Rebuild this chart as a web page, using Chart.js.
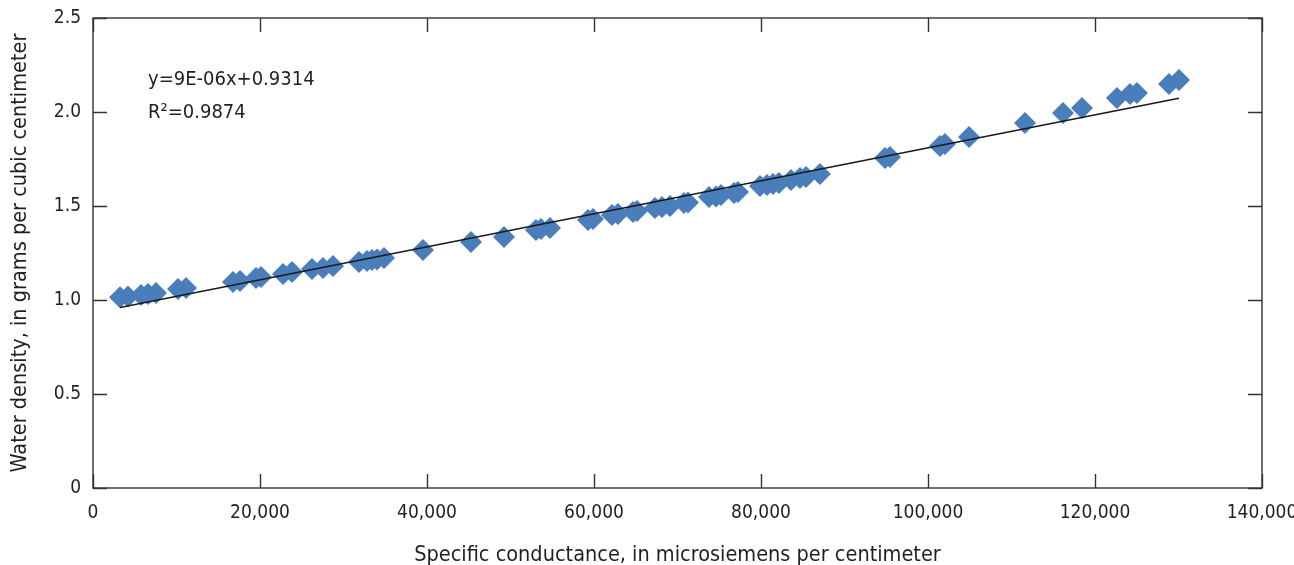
<!DOCTYPE html>
<html>
<head>
<meta charset="utf-8">
<script src="https://cdn.jsdelivr.net/npm/chart.js@4/dist/chart.umd.min.js"></script>
<style>
  html, body { margin: 0; padding: 0; background: #fff; }
  #wrap { width: 1294px; height: 565px; }
</style>
</head>
<body>
<div id="wrap"><canvas id="densityChart" width="1294" height="565"></canvas></div>
<script>
// specific conductance (uS/cm) and water density (g/cm3) of each sample
const conductance = [
  3234, 4192, 5748, 6587, 7545, 10180, 11138, 16766, 17605, 19521,
  20120, 22754, 23832, 26227, 27545, 28742, 31856, 32814, 33413, 34012,
  34850, 39520, 45270, 49220, 53050, 53650, 54730, 59280, 59880, 62150,
  62870, 64670, 65150, 67300, 68140, 69100, 70780, 71260, 73770, 74610,
  75210, 76770, 77240, 79880, 80720, 81440, 82150, 83590, 84670, 85390,
  87060, 94850, 95450, 101440, 102030, 104910, 111620, 116170, 118440, 122630,
  124190, 125020, 128860, 130060
];
const density = [
  1.014, 1.018, 1.027, 1.032, 1.037, 1.059, 1.064, 1.096, 1.101, 1.117,
  1.122, 1.138, 1.149, 1.165, 1.170, 1.181, 1.202, 1.207, 1.213, 1.215,
  1.223, 1.266, 1.309, 1.335, 1.372, 1.378, 1.383, 1.426, 1.431, 1.452,
  1.457, 1.468, 1.473, 1.489, 1.495, 1.500, 1.516, 1.519, 1.548, 1.551,
  1.559, 1.569, 1.574, 1.606, 1.612, 1.617, 1.622, 1.638, 1.649, 1.654,
  1.670, 1.755, 1.761, 1.819, 1.830, 1.867, 1.941, 1.995, 2.021, 2.074,
  2.096, 2.101, 2.149, 2.170
];

// linear trendline (slope shown rounded as 9E-06 in the equation label)
const trendSlope = 0.00000878;
const trendIntercept = 0.9314;
const equationLines = ['y=9E-06x+0.9314', 'R\u00b2=0.9874'];

const xTicks = [0, 20000, 40000, 60000, 80000, 100000, 120000, 140000];
const yTicks = [0, 0.5, 1.0, 1.5, 2.0, 2.5];

const FONT = "'DejaVu Sans Condensed', 'Liberation Sans Narrow', sans-serif";
const INK = '#231f20';

const points = conductance.map((x, i) => ({ x: x, y: density[i] }));
const xMin = Math.min(...conductance);
const xMax = Math.max(...conductance);
const trend = [xMin, xMax].map(x => ({ x: x, y: trendSlope * x + trendIntercept }));

// frame with inward ticks on all four sides, plus the equation text
const framePlugin = {
  id: 'frame',
  afterDraw(chart) {
    const ctx = chart.ctx;
    const a = chart.chartArea;
    const xs = chart.scales.x;
    const ys = chart.scales.y;
    const len = 14;
    ctx.save();
    ctx.strokeStyle = '#333';
    ctx.lineWidth = 1.4;
    ctx.strokeRect(a.left, a.top, a.right - a.left, a.bottom - a.top);
    ctx.beginPath();
    xTicks.forEach(v => {
      const px = Math.round(xs.getPixelForValue(v)) + 0.5;
      ctx.moveTo(px, a.bottom); ctx.lineTo(px, a.bottom - len);
      ctx.moveTo(px, a.top); ctx.lineTo(px, a.top + len);
    });
    yTicks.forEach(v => {
      const py = Math.round(ys.getPixelForValue(v)) + 0.5;
      ctx.moveTo(a.left, py); ctx.lineTo(a.left + len, py);
      ctx.moveTo(a.right, py); ctx.lineTo(a.right - len, py);
    });
    ctx.stroke();

    ctx.fillStyle = INK;
    ctx.font = '20px ' + FONT;
    ctx.textBaseline = 'middle';
    ctx.textAlign = 'left';
    equationLines.forEach((t, i) => {
      ctx.fillText(t, a.left + 55, a.top + 62 + i * 33);
    });
    ctx.restore();
  }
};

new Chart(document.getElementById('densityChart'), {
  type: 'scatter',
  data: {
    datasets: [{
      label: 'Trendline',
      type: 'line',
      data: trend,
      borderColor: '#1a1a1a',
      borderWidth: 1.5,
      pointRadius: 0,
      fill: false,
      order: 0
    }, {
      label: 'Samples',
      data: points,
      pointStyle: 'rectRot',
      pointRadius: 11,
      pointHoverRadius: 11,
      backgroundColor: '#4a7ebb',
      borderColor: '#4a7ebb',
      borderWidth: 0,
      order: 1
    }]
  },
  plugins: [framePlugin],
  options: {
    responsive: false,
    animation: false,
    layout: { padding: { top: 18, right: 32, left: 0, bottom: 0 } },
    plugins: {
      legend: { display: false },
      tooltip: { enabled: false }
    },
    scales: {
      x: {
        type: 'linear',
        min: 0,
        max: 140000,
        afterFit: s => { s.height = 77; s.paddingLeft = 0; s.paddingRight = 0; },
        afterBuildTicks: s => { s.ticks = xTicks.map(v => ({ value: v })); },
        grid: { display: false, drawTicks: false },
        border: { display: false },
        ticks: {
          padding: 14,
          color: INK,
          font: { family: FONT, size: 19 },
          maxRotation: 0,
          callback: v => v.toLocaleString('en-US')
        },
        title: {
          display: true,
          text: 'Specific conductance, in microsiemens per centimeter',
          color: INK,
          font: { family: FONT, size: 21.5 },
          padding: { top: 0, bottom: -3 }
        }
      },
      y: {
        type: 'linear',
        min: 0,
        max: 2.5,
        afterFit: s => { s.width = 93; s.paddingTop = 0; s.paddingBottom = 0; },
        afterBuildTicks: s => { s.ticks = yTicks.map(v => ({ value: v })); },
        grid: { display: false, drawTicks: false },
        border: { display: false },
        ticks: {
          padding: 12,
          color: INK,
          font: { family: FONT, size: 19 },
          callback: v => (v === 0 ? '0' : v.toFixed(1))
        },
        title: {
          display: true,
          text: 'Water density, in grams per cubic centimeter',
          color: INK,
          font: { family: FONT, size: 21.5 },
          padding: { top: 8, bottom: 0 }
        }
      }
    }
  }
});
</script>
</body>
</html>
